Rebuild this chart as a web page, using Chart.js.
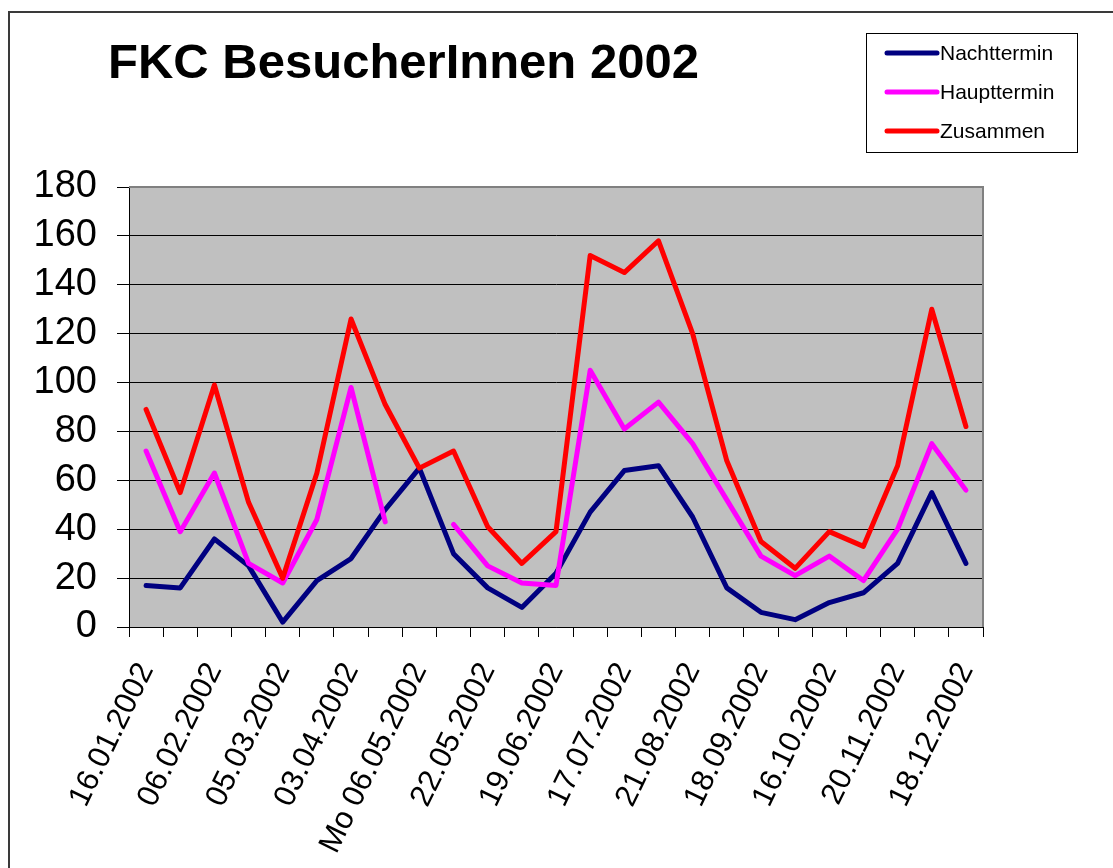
<!DOCTYPE html>
<html>
<head>
<meta charset="utf-8">
<title>FKC BesucherInnen 2002</title>
<script src="https://cdn.jsdelivr.net/npm/chart.js@4.4.1/dist/chart.umd.min.js"></script>
<style>
  html, body { margin: 0; padding: 0; background: #fff; }
  canvas { display: block; }
</style>
</head>
<body>
<canvas id="chart" width="1113" height="868"></canvas>
<script>
// every second date is printed on the axis
const dates = [
  '16.01.2002', '30.01.2002', '06.02.2002', '20.02.2002', '05.03.2002',
  '20.03.2002', '03.04.2002', '17.04.2002', 'Mo 06.05.2002', '08.05.2002',
  '22.05.2002', '05.06.2002', '19.06.2002', '03.07.2002', '17.07.2002',
  '07.08.2002', '21.08.2002', '04.09.2002', '18.09.2002', '02.10.2002',
  '16.10.2002', '06.11.2002', '20.11.2002', '04.12.2002', '18.12.2002'
];
const nachttermin = [17, 16, 36, 25, 2, 19, 28, 48, 65, 30, 16, 8, 22, 47, 64, 66, 45, 16, 6, 3, 10, 14, 26, 55, 26];
const haupttermin = [72, 39, 63, 26, 18, 44, 98, 43, null, 42, 25, 18, 17, 105, 81, 92, 75, 52, 29, 21, 29, 19, 40, 75, 56];
const zusammen    = [89, 55, 99, 51, 20, 63, 126, 91, 65, 72, 41, 26, 39, 152, 145, 158, 120, 68, 35, 24, 39, 33, 66, 130, 82];
const yMin = 0, yMax = 180, yStep = 20;

const FONT = "'Liberation Sans', Arial, sans-serif";

// white page, outer frame, grey plot area
const backdrop = {
  id: 'backdrop',
  beforeDraw(chart) {
    const { ctx, chartArea: a } = chart;
    ctx.save();
    ctx.fillStyle = '#fff';
    ctx.fillRect(0, 0, chart.width, chart.height);
    ctx.strokeStyle = '#3a3a3a';
    ctx.lineWidth = 2;
    ctx.strokeRect(9, 12, chart.width + 20, chart.height + 20);
    ctx.fillStyle = '#c0c0c0';
    ctx.fillRect(a.left, a.top, a.right - a.left, a.bottom - a.top);
    ctx.restore();
  },
  beforeDatasetsDraw(chart) {
    const { ctx, chartArea: a } = chart;
    ctx.save();
    ctx.strokeStyle = '#808080';
    ctx.lineWidth = 2;
    ctx.beginPath();
    ctx.moveTo(a.left, a.top);
    ctx.lineTo(a.right, a.top);
    ctx.lineTo(a.right, a.bottom);
    ctx.stroke();
    ctx.restore();
  }
};

// title top left, boxed legend top right
const titleAndLegend = {
  id: 'titleAndLegend',
  afterDraw(chart) {
    const ctx = chart.ctx;
    ctx.save();
    ctx.fillStyle = '#000';
    ctx.font = 'bold 49px ' + FONT;
    ctx.textBaseline = 'alphabetic';
    ctx.fillText('FKC BesucherInnen 2002', 108, 78);

    ctx.fillStyle = '#fff';
    ctx.fillRect(866, 33, 211, 119);
    ctx.strokeStyle = '#000';
    ctx.lineWidth = 1;
    ctx.strokeRect(866.5, 33.5, 211, 119);

    ctx.font = '21px ' + FONT;
    ctx.textBaseline = 'middle';
    chart.data.datasets.forEach((ds, i) => {
      const y = 53 + i * 39;
      ctx.strokeStyle = ds.borderColor;
      ctx.lineWidth = 5;
      ctx.lineCap = 'round';
      ctx.beginPath();
      ctx.moveTo(887, y);
      ctx.lineTo(937, y);
      ctx.stroke();
      ctx.fillStyle = '#000';
      ctx.fillText(ds.label, 940, y + 1);
    });
    ctx.restore();
  }
};

const lineStyle = {
  borderWidth: 5,
  pointRadius: 0,
  pointHoverRadius: 0,
  tension: 0,
  spanGaps: false,
  borderJoinStyle: 'round',
  borderCapStyle: 'round'
};

new Chart(document.getElementById('chart'), {
  type: 'line',
  data: {
    labels: dates,
    datasets: [
      { label: 'Nachttermin', data: nachttermin, borderColor: '#000080', order: 3, ...lineStyle },
      { label: 'Haupttermin', data: haupttermin, borderColor: '#ff00ff', order: 2, ...lineStyle },
      { label: 'Zusammen', data: zusammen, borderColor: '#ff0000', order: 1, ...lineStyle }
    ]
  },
  options: {
    responsive: false,
    animation: false,
    layout: { padding: { left: 0, top: 187, right: 130, bottom: 0 } },
    plugins: {
      legend: { display: false },
      title: { display: false },
      tooltip: { enabled: false }
    },
    scales: {
      x: {
        offset: true,
        grid: {
          offset: true,
          drawOnChartArea: false,
          drawTicks: true,
          tickLength: 10,
          tickColor: '#000',
          tickWidth: 1
        },
        border: { color: '#000', width: 1 },
        ticks: {
          autoSkip: false,
          minRotation: 64,
          maxRotation: 64,
          padding: 20,
          color: '#000',
          font: { family: FONT, size: 31 },
          callback: function (v, i) { return i % 2 === 0 ? this.getLabelForValue(v) : ''; }
        },
        afterFit: s => { s.height = 868 - 627; }
      },
      y: {
        min: yMin,
        max: yMax,
        grid: { color: '#000', lineWidth: 1, tickLength: 12, tickColor: '#000' },
        border: { color: '#000', width: 1 },
        ticks: {
          stepSize: yStep,
          padding: 20,
          color: '#000',
          font: { family: FONT, size: 38 }
        },
        afterFit: s => { s.width = 129; }
      }
    }
  },
  plugins: [backdrop, titleAndLegend]
});
</script>
</body>
</html>
